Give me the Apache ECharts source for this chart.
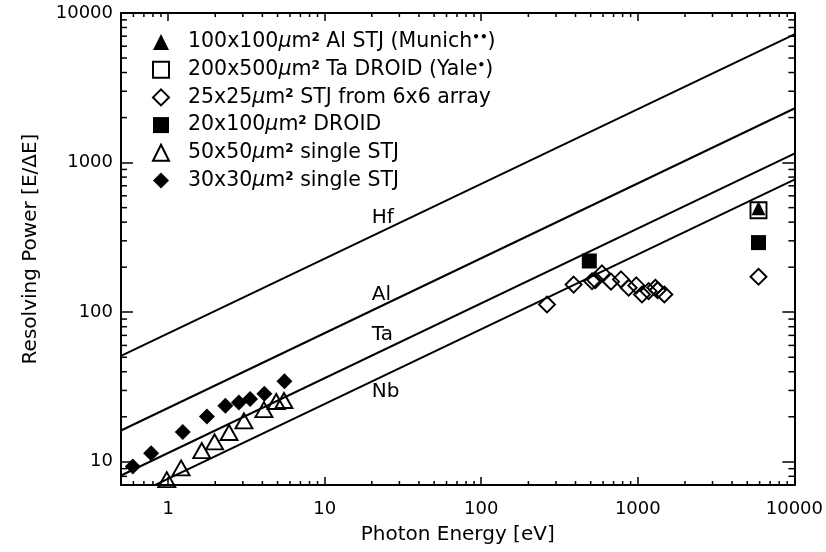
<!DOCTYPE html>
<html>
<head>
<meta charset="utf-8">
<script src="https://cdn.jsdelivr.net/npm/echarts@6/dist/echarts.min.js"></script>
<style>
html,body{margin:0;padding:0;background:#fff;}
#chart{width:826px;height:552px;}
</style>
</head>
<body>
<div id="chart"></div>
<script>
// ---- axis ranges and tick labels ----
const xRange = [0.5, 10000];
const yRange = [7.0, 10000];
const xTickValues = [1, 10, 100, 1000, 10000];
const xTickLabels = ['1', '10', '100', '1000', '10000'];
const yTickValues = [10, 100, 1000, 10000];
const yTickLabels = ['10', '100', '1000', '10000'];
const xMinorTicks = [0.6,0.7,0.8,0.9, 2,3,4,5,6,7,8,9, 20,30,40,50,60,70,80,90, 200,300,400,500,600,700,800,900, 2000,3000,4000,5000,6000,7000,8000,9000];
const yMinorTicks = [8,9, 20,30,40,50,60,70,80,90, 200,300,400,500,600,700,800,900, 2000,3000,4000,5000,6000,7000,8000,9000];

// ---- theoretical material lines (endpoints) ----
const hfLine = [[0.5, 51], [10000, 7200]];
const alLine = [[0.5, 16.2], [10000, 2300]];
const taLine = [[0.5, 8.1], [10000, 1150]];
const nbLine = [[0.5, 5.45], [10000, 770]];
const lineLabels = ['Hf', 'Al', 'Ta', 'Nb'];
const lineLabelE = [20, 20, 20, 20];
const lineLabelR = [428, 131, 71, 29.2];

// ---- measured data ----
const munichE = [5900];
const munichR = [495];
const yaleE = [5900];
const yaleR = [480];
const arrayE = [263, 389, 510, 535, 590, 674, 781, 874, 978, 1063, 1172, 1294, 1339, 1477, 5900];
const arrayR = [112.6, 153, 161, 164, 181.6, 160, 165.6, 145.7, 151, 131.4, 138.2, 145.7, 140.3, 131.4, 172.6];
const droidE = [490, 5900];
const droidR = [220, 292];
const stj50E = [0.98, 1.21, 1.64, 1.98, 2.45, 3.05, 4.09, 4.9, 5.49];
const stj50R = [7.6, 9.1, 11.9, 13.6, 15.7, 18.8, 22.3, 25.3, 25.7];
const stj30E = [0.595, 0.779, 1.24, 1.77, 2.32, 2.83, 3.34, 4.12, 5.53];
const stj30R = [9.3, 11.4, 15.8, 20.1, 23.7, 24.9, 26.3, 28.5, 34.5];

const seriesNames = ['munich', 'yale', 'array', 'droid', 'stj50', 'stj30'];
const legendTexts = [
  '100x100{mu|μ}m{sup|2} Al STJ (Munich{sup|••})',
  '200x500{mu|μ}m{sup|2} Ta DROID (Yale{sup|•})',
  '25x25{mu|μ}m{sup|2} STJ from 6x6 array',
  '20x100{mu|μ}m{sup|2} DROID',
  '50x50{mu|μ}m{sup|2} single STJ',
  '30x30{mu|μ}m{sup|2} single STJ'
];

const FONT = 'DejaVu Sans';
function pairs(xs, ys) { return xs.map((x, i) => [x, ys[i]]); }
function lookup(vals, labels) {
  return function (v) {
    for (let i = 0; i < vals.length; i++) if (Math.abs(v - vals[i]) / vals[i] < 1e-6) return labels[i];
    return '';
  };
}

const chart = echarts.init(document.getElementById('chart'), null, {renderer: 'canvas'});

const lineStyle = {color: '#000', width: 2};
function matLine(name, d) {
  return {type: 'line', name: name, data: d, symbol: 'none', lineStyle: lineStyle, silent: true, z: 2};
}
const openStyle = {color: 'rgba(0,0,0,0)', borderColor: '#000', borderWidth: 1.9, opacity: 1};
const fillStyle = {color: '#000', borderWidth: 0, opacity: 1};

const axisLineStyle = {show: true, lineStyle: {color: '#000', width: 2}};

const option = {
  animation: false,
  backgroundColor: '#fff',
  grid: {left: 121, right: 31, top: 13, bottom: 67, containLabel: false},
  xAxis: [
    {type: 'log', logBase: 10, min: xRange[0], max: xRange[1], position: 'bottom',
     axisLine: axisLineStyle, splitLine: {show: false},
     axisTick: {show: true, inside: true, length: 8, lineStyle: {color: '#000', width: 1.5}},
     axisLabel: {showMinLabel: false, margin: 15, fontFamily: FONT, fontSize: 18, color: '#000', formatter: lookup(xTickValues, xTickLabels)},
     name: 'Photon Energy [eV]', nameLocation: 'middle', nameGap: 40,
     nameTextStyle: {fontFamily: FONT, fontSize: 20, color: '#000'}},
    {type: 'log', logBase: 10, min: xRange[0], max: xRange[1], position: 'top',
     axisLine: axisLineStyle, splitLine: {show: false},
     axisTick: {show: true, inside: true, length: 8, lineStyle: {color: '#000', width: 1.5}},
     axisLabel: {show: false}}
  ],
  yAxis: [
    {type: 'log', logBase: 10, min: yRange[0], max: yRange[1], position: 'left',
     axisLine: axisLineStyle, splitLine: {show: false},
     axisTick: {show: true, inside: true, length: 12, lineStyle: {color: '#000', width: 1.5}},
     axisLabel: {showMinLabel: false, margin: 8, fontFamily: FONT, fontSize: 18, color: '#000', formatter: lookup(yTickValues, yTickLabels)},
     name: 'Resolving Power [E/ΔE]', nameLocation: 'middle', nameGap: 80, nameRotate: 90,
     nameTextStyle: {fontFamily: FONT, fontSize: 20, color: '#000'}},
    {type: 'log', logBase: 10, min: yRange[0], max: yRange[1], position: 'right',
     axisLine: axisLineStyle, splitLine: {show: false},
     axisTick: {show: true, inside: true, length: 12, lineStyle: {color: '#000', width: 1.5}},
     axisLabel: {show: false}}
  ],
  legend: {
    orient: 'vertical', left: 147, top: 26.5, padding: 5,
    itemWidth: 16, itemHeight: 16, itemGap: 6.7,
    selectedMode: false,
    data: seriesNames,
    formatter: function (name) { return legendTexts[seriesNames.indexOf(name)]; },
    textStyle: {
      fontFamily: FONT, fontSize: 20.5, color: '#000', lineHeight: 20, padding: [0, 0, 0, 14],
      rich: {
        mu: {fontFamily: FONT, fontSize: 20.5, fontStyle: 'italic', color: '#000', lineHeight: 20},
        sup: {fontFamily: FONT, fontSize: 12, fontWeight: 'bold', color: '#000', lineHeight: 20, verticalAlign: 'top'}
      }
    }
  },
  series: [
    matLine('Hf', hfLine),
    matLine('Al', alLine),
    matLine('Ta', taLine),
    matLine('Nb', nbLine),
    {type: 'scatter', name: 'labels', silent: true, symbolSize: 0, itemStyle: {opacity: 1},
     data: lineLabels.map((n, i) => ({name: n, value: [lineLabelE[i], lineLabelR[i]]})),
     label: {show: true, position: 'right', distance: 0, formatter: '{b}', fontFamily: FONT, fontSize: 20, color: '#000', opacity: 1}},
    {type: 'scatter', name: 'yale', data: pairs(yaleE, yaleR), symbol: 'rect', symbolSize: 16, itemStyle: openStyle, z: 3},
    {type: 'scatter', name: 'munich', data: pairs(munichE, munichR), symbol: 'triangle', symbolSize: [14, 14], itemStyle: fillStyle, z: 4},
    {type: 'scatter', name: 'array', data: pairs(arrayE, arrayR), symbol: 'diamond', symbolSize: 16, itemStyle: openStyle, z: 3},
    {type: 'scatter', name: 'droid', data: pairs(droidE, droidR), symbol: 'rect', symbolSize: 15, itemStyle: fillStyle, z: 3},
    {type: 'scatter', name: 'stj50', data: pairs(stj50E, stj50R), symbol: 'triangle', symbolSize: [17, 15], itemStyle: openStyle, z: 3},
    {type: 'scatter', name: 'stj30', data: pairs(stj30E, stj30R), symbol: 'diamond', symbolSize: 16, itemStyle: fillStyle, z: 3},
    {type: 'custom', name: 'minorTicks', silent: true, data: [[1, 10]], z: 5,
     renderItem: function (params, api) {
       const ch = [];
       const st = {stroke: '#000', lineWidth: 1.5};
       xMinorTicks.forEach(function (v) {
         const b = api.coord([v, yRange[0]]);
         const t = api.coord([v, yRange[1]]);
         ch.push({type: 'line', shape: {x1: b[0], y1: b[1], x2: b[0], y2: b[1] - 4}, style: st});
         ch.push({type: 'line', shape: {x1: t[0], y1: t[1], x2: t[0], y2: t[1] + 4}, style: st});
       });
       yMinorTicks.forEach(function (v) {
         const l = api.coord([xRange[0], v]);
         const r = api.coord([xRange[1], v]);
         ch.push({type: 'line', shape: {x1: l[0], y1: l[1], x2: l[0] + 6, y2: l[1]}, style: st});
         ch.push({type: 'line', shape: {x1: r[0], y1: r[1], x2: r[0] - 6, y2: r[1]}, style: st});
       });
       return {type: 'group', children: ch};
     }}
  ]
};
chart.setOption(option);
</script>
</body>
</html>
